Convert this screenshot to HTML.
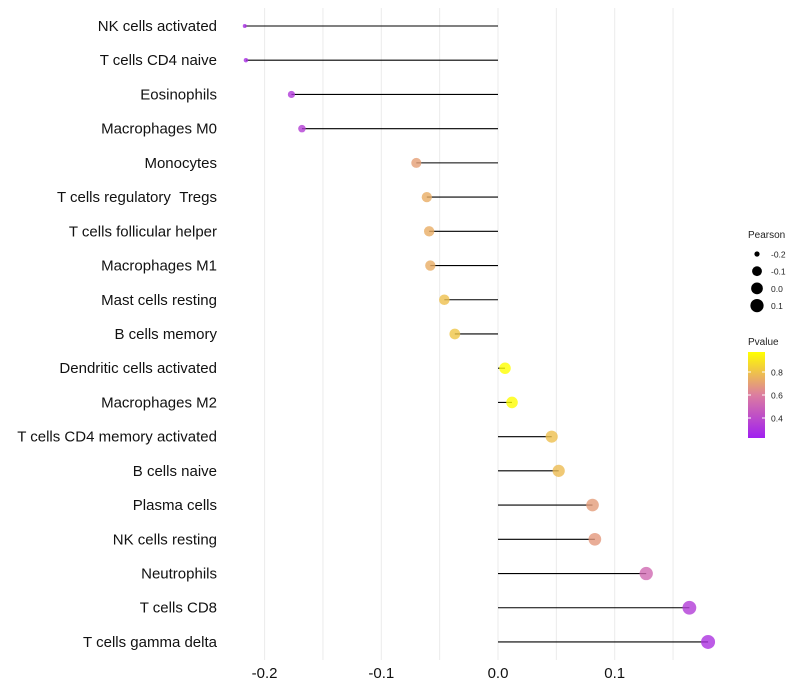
<!DOCTYPE html>
<html><head><meta charset="utf-8"><style>
body{margin:0;background:#fff;}
svg{display:block;font-family:"Liberation Sans",sans-serif;}
</style></head><body>
<svg id="chart" width="800" height="700"></svg>
<script>
const categories=["NK cells activated","T cells CD4 naive","Eosinophils","Macrophages M0","Monocytes","T cells regulatory\u00a0\u00a0Tregs","T cells follicular helper","Macrophages M1","Mast cells resting","B cells memory","Dendritic cells activated","Macrophages M2","T cells CD4 memory activated","B cells naive","Plasma cells","NK cells resting","Neutrophils","T cells CD8","T cells gamma delta"];
const pearson=[-0.217,-0.216,-0.177,-0.168,-0.070,-0.061,-0.059,-0.058,-0.046,-0.037,0.006,0.012,0.046,0.052,0.081,0.083,0.127,0.164,0.180];
const pvalue=[0.28,0.28,0.33,0.35,0.70,0.74,0.74,0.74,0.79,0.81,0.98,0.97,0.79,0.78,0.69,0.68,0.52,0.34,0.30];
const xTicks=[-0.2,-0.1,0.0,0.1];
const xTickLabels=["-0.2","-0.1","0.0","0.1"];
const sizeLegend=[-0.2,-0.1,0.0,0.1];
const pvalTicks=[0.4,0.6,0.8];

const NS="http://www.w3.org/2000/svg";
const svg=document.getElementById('chart');
const X=v=>498+v*1167;
const Y=i=>26+i*34.22;
const R=v=>2+5*Math.sqrt(Math.max(0,(v+0.217)/0.397));
const RL=v=>2.6+4*Math.sqrt(Math.max(0,(v+0.2)/0.3));
const pMin=0.226,pMax=0.974;
function col(p){const t=Math.max(0,Math.min(1,(p-pMin)/(pMax-pMin)));
 const a=[160,32,240],b=[220,125,160],c=[255,255,0];
 let r,g,bl;
 if(t<0.5){const u=t/0.5;r=a[0]+(b[0]-a[0])*u;g=a[1]+(b[1]-a[1])*u;bl=a[2]+(b[2]-a[2])*u;}
 else{const u=(t-0.5)/0.5;r=b[0]+(c[0]-b[0])*u;g=b[1]+(c[1]-b[1])*u;bl=b[2]+(c[2]-b[2])*u;}
 return `rgb(${r|0},${g|0},${bl|0})`;}
function mk(tag,attrs,parent){const e=document.createElementNS(NS,tag);for(const k in attrs)e.setAttribute(k,attrs[k]);(parent||svg).appendChild(e);return e;}

for(let v=-0.2;v<=0.151;v+=0.05){
 const g=mk('line',{x1:X(v),x2:X(v),y1:8,y2:660,stroke:'#ebebeb','stroke-width':1});
 
 
}
xTicks.forEach((v,i)=>{
 const t=mk('text',{x:X(v),y:678,'text-anchor':'middle','font-size':15,fill:'#111'});
 t.textContent=xTickLabels[i];
 
 
});
categories.forEach((c,i)=>{
 const t=mk('text',{x:217,y:Y(i)+5,'text-anchor':'end','font-size':15,fill:'#111'});
 t.textContent=c;
 
 
 const l=mk('line',{x1:X(0),x2:X(pearson[i]),y1:Y(i),y2:Y(i),stroke:'#000','stroke-width':1.1});
 
 
 const p=mk('circle',{cx:X(pearson[i]),cy:Y(i),r:R(pearson[i]),fill:col(pvalue[i]),'fill-opacity':0.8});
 
 
});
let t=mk('text',{x:748,y:238,'font-size':10,fill:'#222'});t.textContent='Pearson';


sizeLegend.forEach((v,i)=>{
 const y=254+i*17.2;
 const c=mk('circle',{cx:757,cy:y,r:RL(v),fill:'#000'});
 
 
 const l=mk('text',{x:771,y:y+3.5,'font-size':8.5,fill:'#222'});l.textContent=v.toFixed(1);
 
 
});
t=mk('text',{x:748,y:345,'font-size':10,fill:'#222'});t.textContent='Pvalue';


const defs=mk('defs',{});const lg=mk('linearGradient',{id:'pg',x1:0,y1:1,x2:0,y2:0},defs);
for(let k=0;k<=10;k++){mk('stop',{offset:k/10,'stop-color':col(pMin+(pMax-pMin)*k/10)},lg);}
const bar=mk('rect',{x:748,y:352,width:17,height:86,fill:'url(#pg)'});


const PY=p=>438-(p-pMin)*115;
pvalTicks.forEach(p=>{
 mk('line',{x1:748,x2:751,y1:PY(p),y2:PY(p),stroke:'#fff'});
 mk('line',{x1:762,x2:765,y1:PY(p),y2:PY(p),stroke:'#fff'});
 const l=mk('text',{x:771,y:PY(p)+3.5,'font-size':8.5,fill:'#222'});l.textContent=p.toFixed(1);
 
 
});
</script>
</body></html>
